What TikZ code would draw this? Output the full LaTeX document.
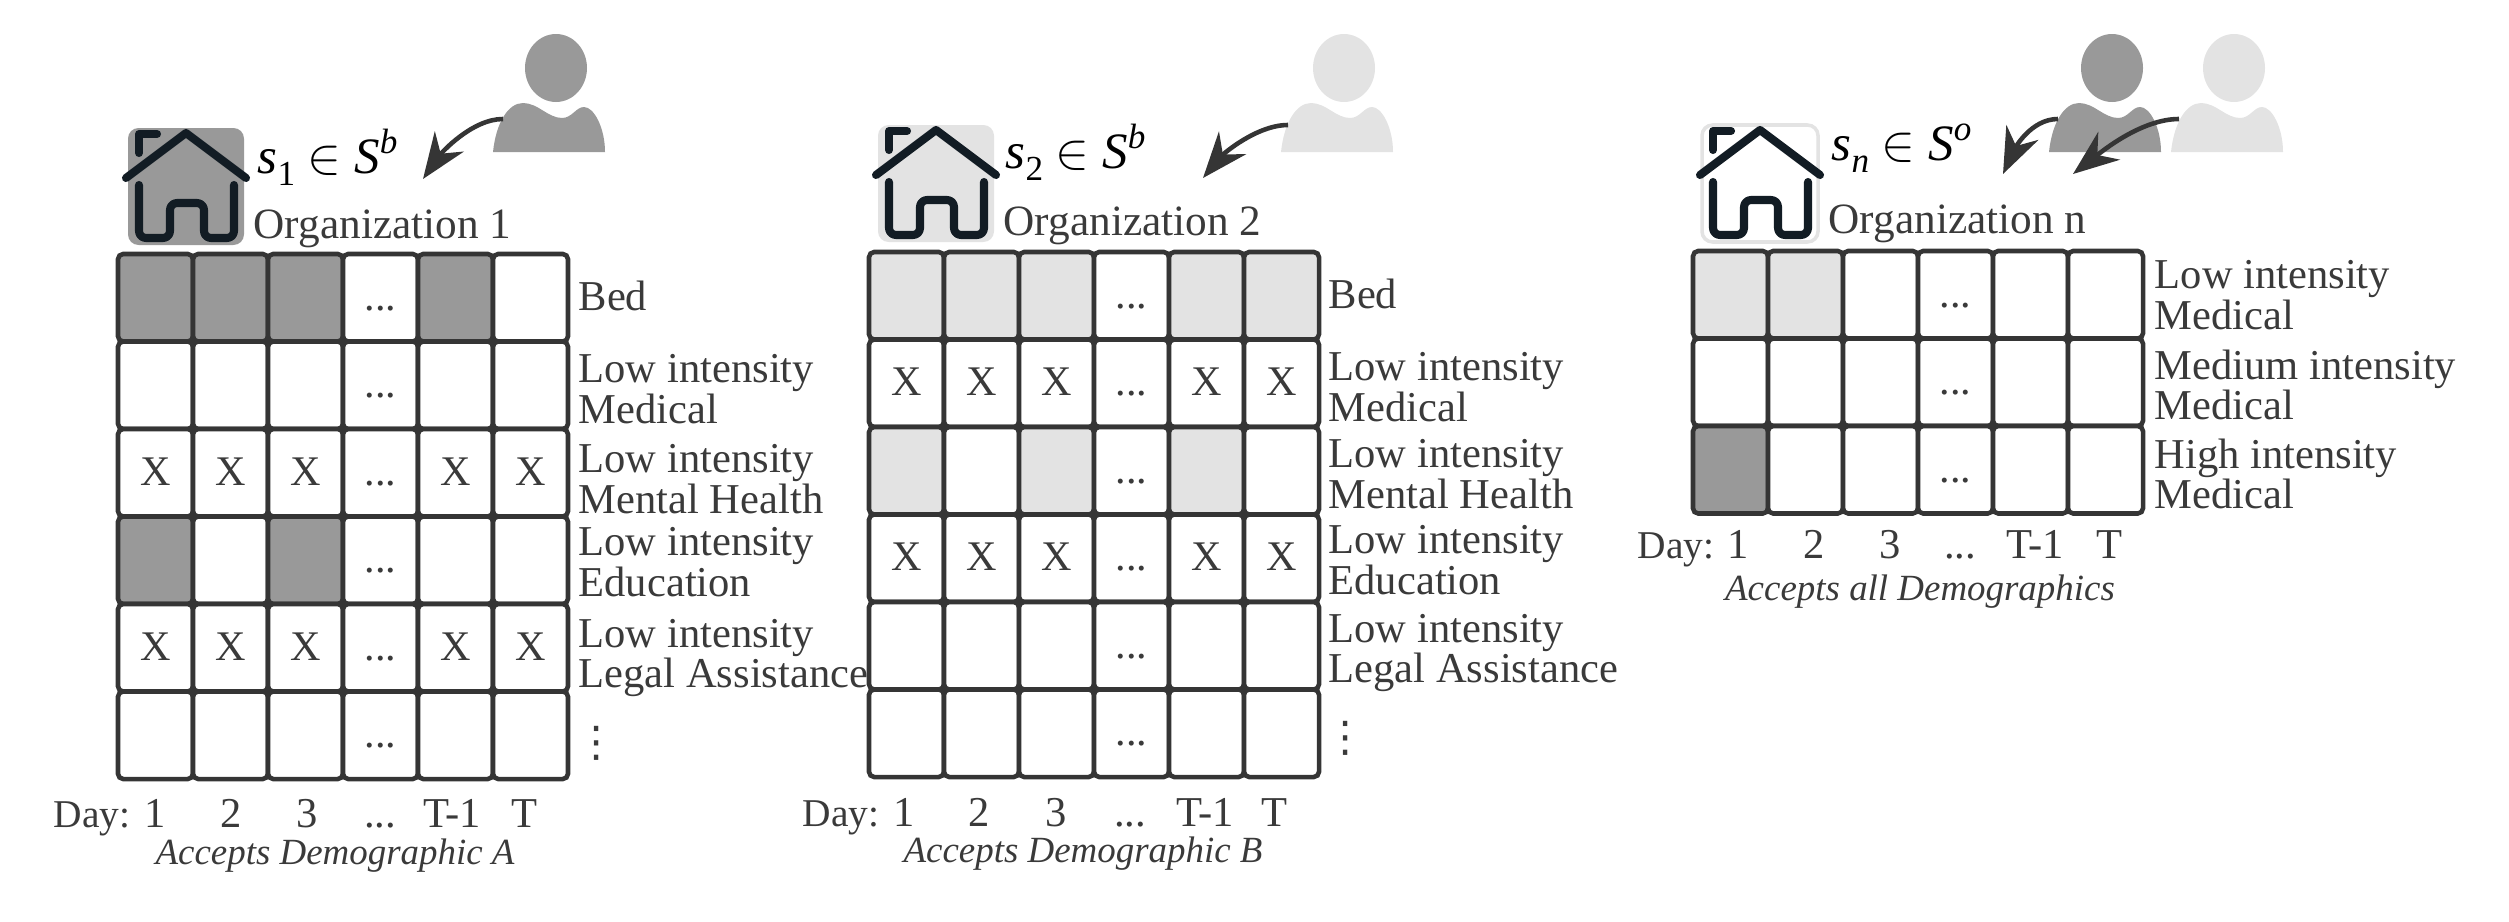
\documentclass[tikz,border=0pt]{standalone}
\usepackage{amsmath,amssymb}
\usepackage{fontspec}
\setmainfont{Liberation Serif}
\newfontfamily\dotsfont{DejaVu Sans}
\usepackage{xcolor}
\usetikzlibrary{arrows.meta}
\definecolor{ink}{HTML}{3A3A3A}
\definecolor{edge}{HTML}{353535}
\definecolor{hue}{HTML}{121C24}
\definecolor{shadeD}{HTML}{999999}
\definecolor{shadeL}{HTML}{E3E3E3}
\tikzset{
	txt/.style={text=ink,inner sep=0pt,font=\fontsize{12.1}{11.5}\selectfont},
	lab/.style={txt,anchor=west,align=left},
	day/.style={txt,anchor=base},
	orgname/.style={text=ink,inner sep=0pt,anchor=base west,font=\fontsize{12.3}{12}\selectfont},
	dayname/.style={text=ink,inner sep=0pt,anchor=base west,font=\fontsize{11.2}{12}\selectfont},
	vdot/.style={text=ink,inner sep=0pt,font=\fontsize{12}{12}\dotsfont},
	capline/.style={text=ink,inner sep=0pt,anchor=base,font=\fontsize{10.5}{12}\selectfont\itshape},
	sym/.style={text=black,inner sep=0pt,anchor=base west,font=\fontsize{14.5}{16}\selectfont},
	cell/.style={draw=edge,line width=1.3pt,rounded corners=1.5pt,minimum width=.75cm,minimum height=.875cm,
		inner sep=0pt,text=ink,text height=.7em,text depth=0pt,font=\fontsize{12}{12}\selectfont},
	B/.style={fill=white},D/.style={fill=shadeD},L/.style={fill=shadeL},
	person/.pic={
		\fill[#1](0,0)ellipse(31 and 34);
		\fill[#1](-63,84)..controls(-60,55)and(-48,35)..(-33,35)..controls(-18,35)and(-8,50)..(6,50)
			..controls(16,50)and(20,39)..(28,39)..controls(38,39)and(49,60)..(49,84)--cycle;
	},
	house/.pic={
		\path[rounded corners=3pt,#1](-58,-58)rectangle(58,59);
		\draw[hue,line width=2.3pt,line cap=round,line join=round](-60,-8)--(0,-53)--(60,-8);
		\draw[hue,line width=2.3pt,line cap=round,line join=round](-47,-33)--(-47,-52)--(-29,-52);
		\draw[hue,line width=2.3pt,line cap=round,line join=round,rounded corners=2pt]
			(-47,-1)--(-47,52)--(-16,52)--(-16,17)--(18,17)--(18,52)--(48,52)--(48,-1);
	},
	arr/.style={draw=edge,line width=1.3pt,-{Stealth[length=13pt,width=10pt]}},
}
\newcommand{\dd}{...}
% set membership label: index, set letter superscript
\newcommand{\member}[2]{\textit{s}\raisebox{-.25em}{\fontsize{10}{10}\selectfont #1}\ $\in$\ \textit{S}\raisebox{.38em}{\fontsize{10}{10}\selectfont\itshape #2}}
% one row of the table: row index, then kind/text per column
\newcommand{\cellrow}[2]{
	\foreach \kind/\txt[count=\c from 0]in{#2}
		\node[cell,\kind](r#1c\c)at({\c*75+37.5},{#1*87.5+43.75}){\txt};
}
\begin{document}
\begin{tikzpicture}[x=.01cm,y=-.01cm]
	\useasboundingbox(0,0)rectangle(2509,921);
	% first organization
	\begin{scope}[shift={(118,254)},name prefix=orgA-]
		\cellrow{0}{D/,D/,D/,B/\dd,D/,B/}
		\cellrow{1}{B/,B/,B/,B/\dd,B/,B/}
		\cellrow{2}{B/X,B/X,B/X,B/\dd,B/X,B/X}
		\cellrow{3}{D/,B/,D/,B/\dd,B/,B/}
		\cellrow{4}{B/X,B/X,B/X,B/\dd,B/X,B/X}
		\cellrow{5}{B/,B/,B/,B/\dd,B/,B/}
		\node[lab](bed)at(460,42){Bed};
		\node[lab](med)at(460,135){Low intensity\\Medical};
		\node[lab](men)at(460,225){Low intensity\\Mental Health};
		\node[lab](edu)at(460,308){Low intensity\\Education};
		\node[lab](leg)at(460,404){Low intensity\\Legal Assistance};
		\node[vdot](more)at(479,489){⋮};
		\node[dayname](dayl)at(-65,573){Day:};
		\foreach \t/\xx in {1/37,2/113,3/189,{\dd}/262,T-1/334,T/406}
			\node[day](d\xx)at(\xx,573){\t};
		\node[capline](accept)at(217,610){Accepts Demographic A};
	\end{scope}
	\pic at(186,186){house={fill=shadeD}};
	\node[sym](setA)at(257,173){\member{1}{b}};
	\node[orgname](nameA)at(253,238){Organization 1};
	\pic at(556,68){person=shadeD};
	\coordinate(pA)at(503,119);
	\coordinate(tA)at(423,179);
	\draw[arr](pA)to[out=180,in=55,looseness=.8](tA);
	% second organization
	\begin{scope}[shift={(869,252)},name prefix=orgB-]
		\cellrow{0}{L/,L/,L/,B/\dd,L/,L/}
		\cellrow{1}{B/X,B/X,B/X,B/\dd,B/X,B/X}
		\cellrow{2}{L/,B/,L/,B/\dd,L/,B/}
		\cellrow{3}{B/X,B/X,B/X,B/\dd,B/X,B/X}
		\cellrow{4}{B/,B/,B/,B/\dd,B/,B/}
		\cellrow{5}{B/,B/,B/,B/\dd,B/,B/}
		\node[lab](bed)at(459,42){Bed};
		\node[lab](med)at(459,135){Low intensity\\Medical};
		\node[lab](men)at(459,222){Low intensity\\Mental Health};
		\node[lab](edu)at(459,308){Low intensity\\Education};
		\node[lab](leg)at(459,401){Low intensity\\Legal Assistance};
		\node[vdot](more)at(477,486){⋮};
		\node[dayname](dayl)at(-67,574){Day:};
		\foreach \t/\xx in {1/35,2/110,3/187,{\dd}/261,T-1/336,T/405}
			\node[day](d\xx)at(\xx,574){\t};
		\node[capline](accept)at(214,610){Accepts Demographic B};
	\end{scope}
	\pic at(936,183){house={fill=shadeL}};
	\node[sym](setB)at(1005,168){\member{2}{b}};
	\node[orgname](nameB)at(1003,235){Organization 2};
	\pic at(1344,68){person=shadeL};
	\coordinate(pB)at(1288,125);
	\coordinate(tB)at(1203,178);
	\draw[arr](pB)to[out=180,in=50,looseness=.8](tB);
	% last organization
	\begin{scope}[shift={(1693,251)},name prefix=orgN-]
		\cellrow{0}{L/,L/,B/,B/\dd,B/,B/}
		\cellrow{1}{B/,B/,B/,B/\dd,B/,B/}
		\cellrow{2}{D/,B/,B/,B/\dd,B/,B/}
		\node[lab](low)at(461,44){Low intensity\\Medical};
		\node[lab](mid)at(461,134){Medium intensity\\Medical};
		\node[lab](high)at(461,223){High intensity\\Medical};
		\node[dayname](dayl)at(-56,307){Day:};
		\foreach \t/\xx in {1/45,2/121,3/197,{\dd}/267,T-1/342,T/416}
			\node[day](d\xx)at(\xx,307){\t};
		\node[capline](accept)at(227,349){Accepts all Demographics};
	\end{scope}
	\pic at(1760,183){house={draw=shadeL,line width=1pt,fill=white}};
	\node[sym](setN)at(1831,160){\member{\textit{n}}{o}};
	\node[orgname](nameN)at(1828,233){Organization n};
	\pic at(2112,68){person=shadeD};
	\pic at(2234,68){person=shadeL};
	\coordinate(pC)at(2058,119);
	\coordinate(tC)at(2003,174);
	\coordinate(pD)at(2179,119);
	\coordinate(tD)at(2073,174);
	\draw[arr](pC)to[out=180,in=65,looseness=.9](tC);
	\draw[arr](pD)to[out=180,in=38,looseness=.8](tD);
\end{tikzpicture}
\end{document}
